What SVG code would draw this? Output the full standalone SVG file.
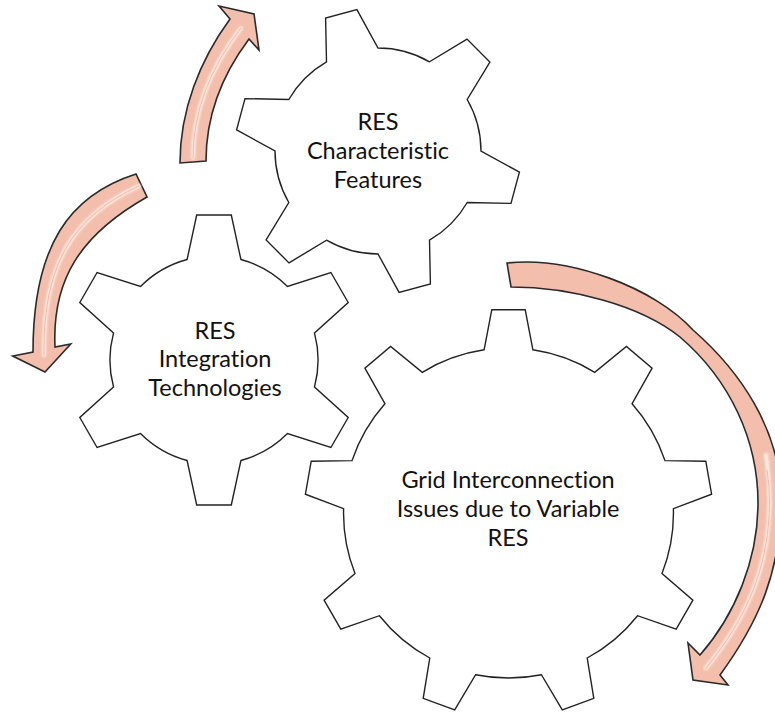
<svg xmlns="http://www.w3.org/2000/svg" width="775" height="713" viewBox="0 0 775 713">
<defs>
<style>
.gear{fill:#fff;stroke:#222;stroke-width:1.4;stroke-linejoin:miter}
.lbl{font-family:Lato,"Open Sans","Liberation Sans",sans-serif;font-size:23.5px;fill:#111;text-anchor:middle;font-variant-ligatures:none}
.arrow{fill:#F3BFAC;stroke:#2a2a2a;stroke-width:1.6;stroke-linejoin:miter}
.hl{fill:none;stroke:#fff;stroke-width:4;stroke-opacity:0.75;stroke-linecap:round;filter:url(#soft)}
.hl2{fill:none;stroke:#F3BFAC;stroke-width:1.2;stroke-linecap:round}
</style>
<filter id="soft" x="-20%" y="-20%" width="140%" height="140%"><feGaussianBlur stdDeviation="0.8"/></filter>
</defs>
<rect width="775" height="713" fill="#fff"/>
<g id="connectors">
<g id="arrow-top">
<path class="arrow" d="M180,163 C180,110 200,60 230,19 L219,6 L254,14 L259,50 L249,39 C222,75 206,115 206,161 Z"/>
<path class="hl" d="M193,158 C193,112 211,67 241,28"/>
<path class="hl2" d="M193,158 C193,112 211,67 241,28"/>
</g>
<g id="arrow-left">
<path class="arrow" d="M136,174 C70,195 33,245 33,352 L12.7,356 L45,372 L70.7,344 L55,347 C52,280 80,235 147,197 Z"/>
<path class="hl" d="M139,186 C75,215 42.5,262 44,355"/>
<path class="hl2" d="M139,186 C75,215 42.5,262 44,355"/>
</g>
<g id="arrow-right">
<path class="arrow" d="M507,263 C570,256 655,288 693,330 C740,371 781,430 781,500 C781,570 760,620 720,675 L728,685 L693,680 L688,643 L700,655 C735,615 758,560 758,503 C758,440 730,380 680,337 C640,305 570,287 511,287 Z"/>
<path class="hl" d="M766,455 C768.5,472 769.5,488 769.5,501.5 C769.5,565 747.5,617.5 706,668" stroke-opacity="0.7"/>
<path class="hl2" d="M767,470 C769,482 769.5,492 769.5,501.5 C769.5,565 747.5,617.5 706,668"/>
</g>
</g>
<g id="gear-integration">
<path class="gear" d="M187.1,259.5 L196.7,215 L231.3,215 L240.9,259.5 A104,104 0 0 1 287.5,286.5 L330.9,272.5 L348.2,302.5 L314.5,333.1 A104,104 0 0 1 314.5,386.9 L348.2,417.5 L330.9,447.5 L287.5,433.5 A104,104 0 0 1 240.9,460.5 L231.3,505 L196.7,505 L187.1,460.5 A104,104 0 0 1 140.5,433.5 L97.1,447.5 L79.8,417.5 L113.5,386.9 A104,104 0 0 1 113.5,333.1 L79.8,302.5 L97.1,272.5 L140.5,286.5 A104,104 0 0 1 187.1,259.5 Z"/>
<text class="lbl" x="215" y="338.5">RES</text>
<text class="lbl" x="215" y="367">Integration</text>
<text class="lbl" x="215" y="396">Technologies</text>
</g>
<g id="gear-characteristic">
<path class="gear" d="M326.5,61.8 L325.6,18 L356.9,9.6 L378,48 A103,103 0 0 1 429.5,61.8 L467,39.1 L489.9,62 L467.2,99.5 A103,103 0 0 1 481,151 L519.4,172.1 L511,203.4 L467.2,202.5 A103,103 0 0 1 429.5,240.2 L430.4,284 L399.1,292.4 L378,254 A103,103 0 0 1 326.5,240.2 L289,262.9 L266.1,240 L288.8,202.5 A103,103 0 0 1 275,151 L236.6,129.9 L245,98.6 L288.8,99.5 A103,103 0 0 1 326.5,61.8 Z"/>
<text class="lbl" x="378" y="130">RES</text>
<text class="lbl" x="378" y="158.5">Characteristic</text>
<text class="lbl" x="378" y="187.5">Features</text>
</g>
<g id="gear-grid">
<path class="gear" d="M484.1,349.8 L491.8,309.7 L525.2,309.7 L532.9,349.8 A165,165 0 0 1 594.7,372.3 L626.4,346.5 L652.1,368.1 L632.1,403.7 A165,165 0 0 1 665,460.6 L705.8,461.2 L711.6,494.2 L673.4,508.7 A165,165 0 0 1 662,573.5 L692.9,600.2 L676.2,629.1 L637.6,615.7 A165,165 0 0 1 587.2,658 L593.8,698.3 L562.3,709.8 L541.4,674.7 A165,165 0 0 1 475.6,674.7 L454.7,709.8 L423.2,698.3 L429.8,658 A165,165 0 0 1 379.4,615.7 L340.8,629.1 L324.1,600.2 L355,573.5 A165,165 0 0 1 343.6,508.7 L305.4,494.2 L311.2,461.2 L352,460.6 A165,165 0 0 1 384.9,403.7 L364.9,368.1 L390.6,346.5 L422.3,372.3 A165,165 0 0 1 484.1,349.8 Z"/>
<text class="lbl" x="508" y="488">Grid Interconnection</text>
<text class="lbl" x="508" y="517">Issues due to Variable</text>
<text class="lbl" x="508" y="546">RES</text>
</g>
</svg>
